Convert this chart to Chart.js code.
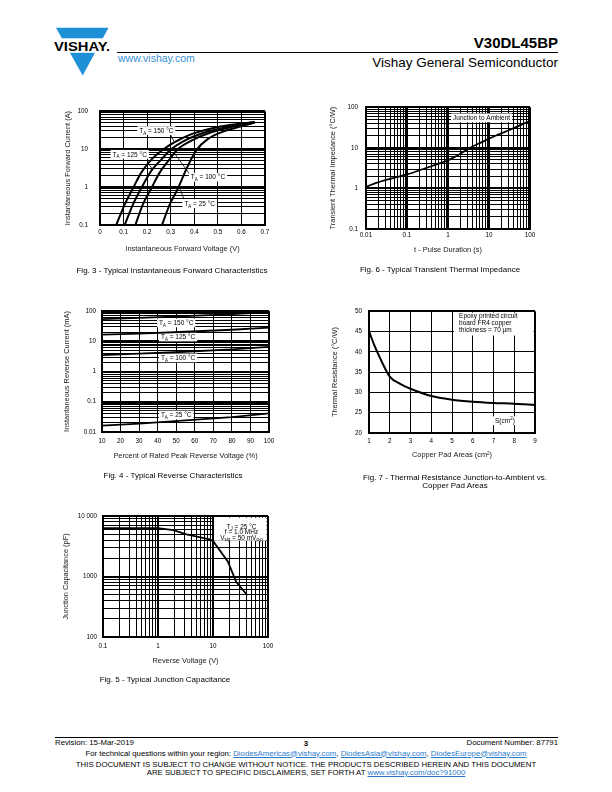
<!DOCTYPE html>
<html>
<head>
<meta charset="utf-8">
<title>V30DL45BP - page 3</title>
<script src="https://cdn.jsdelivr.net/npm/chart.js@4.4.1/dist/chart.umd.min.js"></script>
<style>
  body { margin: 0; width: 612px; height: 792px; position: relative; overflow: hidden; background: #fff;
         font-family: "Liberation Sans", Arial, sans-serif; color: #000; }
  .t { position: absolute; white-space: nowrap; line-height: 1; }
  .mid { transform: translateX(-50%); text-align: center; }
  canvas { position: absolute; }
  a { color: #2b7bcc; text-decoration: underline; }
</style>
</head>
<body>

<svg class="t" style="left:0;top:0" width="120" height="80">
  <polygon points="56,27.7 108.5,27.7 82.7,75.5" fill="#1e90d8"/>
  <rect x="50" y="38.3" width="66" height="14.5" fill="#fff"/>
  <text x="54" y="51.4" font-family="Liberation Sans" font-weight="bold" font-size="12.5" textLength="56" lengthAdjust="spacingAndGlyphs">VISHAY.</text>
</svg>
<div class="t" style="left:118px;top:53px;font-size:10.5px;color:#3a90d4">www.vishay.com</div>
<div class="t" style="right:54px;top:34.5px;font-size:15px;font-weight:bold">V30DL45BP</div>
<div class="t" style="left:117px;top:51.5px;width:441px;height:1px;background:#000"></div>
<div class="t" style="right:54px;top:56px;font-size:13.5px">Vishay General Semiconductor</div>

<canvas id="fig3"></canvas>
<canvas id="fig6"></canvas>
<canvas id="fig4"></canvas>
<canvas id="fig7"></canvas>
<canvas id="fig5"></canvas>

<div class="t mid" style="left:172px;top:267px;font-size:8px">Fig. 3 - Typical Instantaneous Forward Characteristics</div>
<div class="t mid" style="left:440px;top:266px;font-size:8px">Fig. 6 - Typical Transient Thermal Impedance</div>
<div class="t mid" style="left:173px;top:472px;font-size:8px">Fig. 4 - Typical Reverse Characteristics</div>
<div class="t mid" style="left:455px;top:474px;font-size:8px">Fig. 7 - Thermal Resistance Junction-to-Ambient vs.</div>
<div class="t mid" style="left:455px;top:482px;font-size:8px">Copper Pad Areas</div>
<div class="t mid" style="left:165px;top:676px;font-size:8px">Fig. 5 - Typical Junction Capacitance</div>

<div class="t" style="left:55px;top:736.5px;width:503px;height:1px;background:#000"></div>
<div class="t" style="left:55px;top:739px;font-size:7.8px">Revision: 15-Mar-2019</div>
<div class="t mid" style="left:306px;top:739.5px;font-size:7.8px;font-weight:bold">3</div>
<div class="t" style="right:54px;top:739px;font-size:7.8px">Document Number: 87791</div>
<div class="t mid" style="left:306px;top:749.5px;font-size:7.8px">For technical questions within your region: <a>DiodesAmericas@vishay.com</a>, <a>DiodesAsia@vishay.com</a>, <a>DiodesEurope@vishay.com</a></div>
<div class="t mid" style="left:306px;top:760.5px;font-size:7.8px">THIS DOCUMENT IS SUBJECT TO CHANGE WITHOUT NOTICE. THE PRODUCTS DESCRIBED HEREIN AND THIS DOCUMENT</div>
<div class="t mid" style="left:306px;top:768.5px;font-size:7.8px">ARE SUBJECT TO SPECIFIC DISCLAIMERS, SET FORTH AT <a>www.vishay.com/doc?91000</a></div>

<script>
// ---- Fig. 3 - forward characteristics (V, A) ----
const fwdVoltTicks = [0, 0.1, 0.2, 0.3, 0.4, 0.5, 0.6, 0.7];
const fwdVoltLabels = ['0', '0.1', '0.2', '0.3', '0.4', '0.5', '0.6', '0.7'];
const fwdCurrTicks = [0.1, 1, 10, 100];
const fwdCurrLabels = ['0.1', '1', '10', '100'];
const vf150 = [0.069, 0.105, 0.14, 0.175, 0.218, 0.274, 0.317, 0.388, 0.472, 0.557, 0.656];
const if150 = [0.1, 0.35, 0.93, 2.4, 5.3, 10.4, 15.3, 24.8, 35, 44, 51.5];
const vf125 = [0.105, 0.14, 0.175, 0.218, 0.26, 0.303, 0.359, 0.444, 0.557, 0.656];
const if125 = [0.1, 0.35, 0.93, 2.7, 5.3, 10, 16.8, 27.4, 40.3, 51];
const vf100 = [0.15, 0.182, 0.218, 0.253, 0.289, 0.331, 0.388, 0.458, 0.557, 0.656];
const if100 = [0.1, 0.35, 0.93, 2.4, 4.8, 10, 16.8, 25.8, 38, 50.5];
const vf25 = [0.263, 0.296, 0.331, 0.366, 0.409, 0.458, 0.529, 0.6, 0.656];
const if25 = [0.1, 0.35, 0.92, 2.95, 9.4, 18.6, 30, 40, 50];

// ---- Fig. 6 - transient thermal impedance (s, °C/W) ----
const pulseTicks = [0.01, 0.1, 1, 10, 100];
const pulseLabels = ['0.01', '0.1', '1', '10', '100'];
const zthTicks = [0.1, 1, 10, 100];
const zthLabels = ['0.1', '1', '10', '100'];
const pulseTime = [0.01, 0.02, 0.05, 0.1, 0.25, 0.65, 1, 2, 3.2, 6.7, 14, 35, 100];
const zthJA = [1.09, 1.42, 1.84, 2.2, 3.0, 4.2, 4.9, 7.1, 9.6, 13.8, 19.5, 28.6, 46];

// ---- Fig. 4 - reverse characteristics (%, mA) ----
const pctTicks = [10, 20, 30, 40, 50, 60, 70, 80, 90, 100];
const pctLabels = ['10', '20', '30', '40', '50', '60', '70', '80', '90', '100'];
const irTicks = [0.01, 0.1, 1, 10, 100];
const irLabels = ['0.01', '0.1', '1', '10', '100'];
const pctRated = [10, 30, 55, 80, 100];
const ir150 = [54, 59, 68, 79, 92];
const ir125 = [16.5, 18, 20.6, 24, 28];
const ir100 = [3.5, 3.9, 4.5, 5.4, 6.5];
const ir25 = [0.0162, 0.019, 0.0244, 0.031, 0.041];

// ---- Fig. 7 - thermal resistance vs copper pad area (cm², °C/W) ----
const padTicks = [1, 2, 3, 4, 5, 6, 7, 8, 9];
const padLabels = ['1', '2', '3', '4', '5', '6', '7', '8', '9'];
const rthTicks = [20, 25, 30, 35, 40, 45, 50];
const rthLabels = ['20', '25', '30', '35', '40', '45', '50'];
const padArea = [1, 1.25, 1.5, 2, 2.5, 3, 4, 5, 6, 7, 8, 9];
const rthJA = [45.1, 41.7, 38.8, 33.9, 32.1, 30.9, 29.1, 28.2, 27.7, 27.4, 27.2, 26.9];

// ---- Fig. 5 - junction capacitance (V, pF) ----
const vrTicks = [0.1, 1, 10, 100];
const vrLabels = ['0.1', '1', '10', '100'];
const capTicks = [100, 1000, 10000];
const capLabels = ['100', '1000', '10 000'];
const revVolt = [0.1, 1, 1.9, 3.3, 8.7, 10, 18.7, 26.5, 42];
const junctionCap = [6300, 6300, 5850, 4970, 4100, 3850, 1750, 810, 490];

const FONT = 'Liberation Sans';
const TICK_SIZE = 6.3, TITLE_SIZE = 7.4, NOTE_SIZE = 6.5;
const OX = 80, OY = 10, PR = 16, HX = 45;

function logGrid(lo, hi) {
  const out = [];
  for (let d = lo; d < hi * 0.999; d = +(d * 10).toPrecision(3))
    for (let m = 1; m < 10; m++) out.push(+(m * d).toPrecision(3));
  out.push(hi);
  return out;
}

function same(a, b) { return Math.abs(a - b) <= 1e-6 * Math.max(1e-9, Math.abs(b)); }

function axisCfg(pos, a) {
  const horiz = pos === 'bottom';
  return {
    type: a.type, position: pos, min: a.min, max: a.max,
    afterBuildTicks: s => { s.ticks = a.grid.map(v => ({ value: v })); },
    afterFit: s => { if (horiz) s.height = HX; else s.width = OX; },
    ticks: {
      autoSkip: false, maxRotation: 0, minRotation: 0, color: '#000',
      font: { family: FONT, size: TICK_SIZE, lineHeight: 1 },
      padding: a.tickPad,
      callback: v => {
        const i = a.ticks.findIndex(t => same(v, t));
        return i < 0 ? '' : a.labels[i];
      }
    },
    grid: {
      drawTicks: false, color: '#000',
      lineWidth: c => {
        const v = c.tick ? c.tick.value : NaN;
        if (same(v, a.min) || same(v, a.max)) return 2;
        return a.major && a.major.some(m => same(v, m)) ? 2 : 1;
      }
    },
    border: { display: true, color: '#000', width: 2 },
    title: {
      display: true, text: a.title, color: '#1a1a1a',
      font: { family: FONT, size: TITLE_SIZE, lineHeight: 1 },
      padding: horiz ? { top: 0, bottom: a.titlePad } : { top: a.titlePad, bottom: 0 }
    }
  };
}

function drawRuns(ctx, runs, x, y, align, bg) {
  const pieces = runs.map(r => {
    const sub = r[0] === '_', sup = r[0] === '^';
    const text = sub || sup ? r.slice(1) : r;
    const fs = sub || sup ? NOTE_SIZE * 0.68 : NOTE_SIZE;
    ctx.font = fs + 'px "' + FONT + '"';
    return { text, fs, dy: sub ? NOTE_SIZE * 0.28 : sup ? -NOTE_SIZE * 0.38 : 0, w: ctx.measureText(text).width };
  });
  const total = pieces.reduce((s, p) => s + p.w, 0);
  let x0 = align === 'left' ? x : x - total / 2;
  if (bg) {
    ctx.fillStyle = '#fff';
    ctx.fillRect(x0 - 2, y - NOTE_SIZE * 0.65, total + 4, NOTE_SIZE * 1.35);
  }
  ctx.fillStyle = '#000';
  ctx.textAlign = 'left';
  ctx.textBaseline = 'alphabetic';
  const base = y + NOTE_SIZE * 0.36;
  pieces.forEach(p => {
    ctx.font = p.fs + 'px "' + FONT + '"';
    ctx.fillText(p.text, x0, base + p.dy);
    x0 += p.w;
  });
}

function notesPlugin(notes) {
  return {
    id: 'notes',
    beforeDatasetsDraw(chart) {
      const { ctx, chartArea: ca, scales } = chart;
      const X = v => scales.x.getPixelForValue(v), Y = v => scales.y.getPixelForValue(v);
      ctx.save();
      notes.forEach(n => {
        if (n.box) {
          const x1 = Math.max(ca.left + 1.5, Math.min(X(n.box[0]), X(n.box[1])));
          const x2 = Math.min(ca.right - 1.5, Math.max(X(n.box[0]), X(n.box[1])));
          const y1 = Math.max(ca.top + 1.5, Math.min(Y(n.box[2]), Y(n.box[3])));
          const y2 = Math.min(ca.bottom - 1.5, Math.max(Y(n.box[2]), Y(n.box[3])));
          ctx.fillStyle = '#fff';
          ctx.fillRect(x1, y1, x2 - x1, y2 - y1);
        }
        if (n.line) {
          ctx.strokeStyle = '#000';
          ctx.lineWidth = 0.8;
          ctx.beginPath();
          ctx.moveTo(X(n.line[0]), Y(n.line[1]));
          ctx.lineTo(X(n.line[2]), Y(n.line[3]));
          ctx.stroke();
        }
      });
      notes.forEach(n => {
        if (n.runs) drawRuns(ctx, n.runs, X(n.x), Y(n.y), n.align || 'center', n.bg !== false);
      });
      ctx.restore();
    }
  };
}

function drawChart(id, box, xAxis, yAxis, series, notes) {
  const cv = document.getElementById(id);
  cv.width = box.R - box.L + OX + PR;
  cv.height = box.B - box.T + OY + HX;
  cv.style.left = (box.L - OX) + 'px';
  cv.style.top = (box.T - OY) + 'px';
  xAxis.tickPad = box.xTickY - box.B - TICK_SIZE / 2;
  xAxis.titlePad = box.B + HX - box.xTitleY - TITLE_SIZE / 2;
  yAxis.tickPad = box.L - box.yTickRight;
  yAxis.titlePad = box.yTitleX - (box.L - OX) - TITLE_SIZE / 2;
  return new Chart(cv, {
    type: 'line',
    data: {
      datasets: series.map(s => ({
        data: s.x.map((x, i) => ({ x: x, y: s.y[i] })),
        borderColor: '#000', borderWidth: s.w, pointRadius: 0, fill: false,
        cubicInterpolationMode: s.smooth ? 'monotone' : 'default', tension: 0
      }))
    },
    options: {
      responsive: false, animation: false, events: [],
      layout: { padding: { left: 0, top: OY, right: PR, bottom: 0 } },
      plugins: { legend: { display: false }, tooltip: { enabled: false } },
      scales: { x: axisCfg('bottom', xAxis), y: axisCfg('left', yAxis) }
    },
    plugins: [notesPlugin(notes)]
  });
}

const TA = t => ['T', '_A', ' = ' + t + ' °C'];

drawChart('fig3',
  { L: 100, R: 265, T: 106, B: 225, yTickRight: 88, xTickY: 232, yTitleX: 68, xTitleY: 249 },
  { type: 'linear', min: 0, max: 0.7, grid: fwdVoltTicks, ticks: fwdVoltTicks, labels: fwdVoltLabels,
    title: 'Instantaneous Forward Voltage (V)' },
  { type: 'logarithmic', min: 0.1, max: 100, grid: logGrid(0.1, 100), ticks: fwdCurrTicks, labels: fwdCurrLabels,
    major: fwdCurrTicks, title: 'Instantaneous Forward Current (A)' },
  [ { x: vf150, y: if150, w: 2, smooth: true }, { x: vf125, y: if125, w: 2, smooth: true },
    { x: vf100, y: if100, w: 2, smooth: true }, { x: vf25, y: if25, w: 2, smooth: true } ],
  [ { runs: TA(150), x: 0.239, y: 31, line: [0.296, 26, 0.317, 14.5] },
    { runs: TA(125), x: 0.126, y: 7.35, line: [0.2, 4.6, 0.222, 3] },
    { runs: TA(100), x: 0.458, y: 1.83, line: [0.38, 2.2, 0.318, 7.5] },
    { runs: TA(25), x: 0.423, y: 0.37, line: [0.359, 0.43, 0.338, 0.95] } ]);

drawChart('fig6',
  { L: 366, R: 530, T: 106, B: 229, yTickRight: 358, xTickY: 235.5, yTitleX: 333, xTitleY: 250 },
  { type: 'logarithmic', min: 0.01, max: 100, grid: logGrid(0.01, 100), ticks: pulseTicks, labels: pulseLabels,
    major: pulseTicks, title: 't - Pulse Duration (s)' },
  { type: 'logarithmic', min: 0.1, max: 100, grid: logGrid(0.1, 100), ticks: zthTicks, labels: zthLabels,
    major: zthTicks, title: 'Transient Thermal Impedance (°C/W)' },
  [ { x: pulseTime, y: zthJA, w: 1.8, smooth: true } ],
  [ { runs: ['Junction to Ambient'], x: 6.6, y: 55 } ]);

drawChart('fig4',
  { L: 102, R: 269, T: 311, B: 432, yTickRight: 96, xTickY: 441.5, yTitleX: 67, xTitleY: 456 },
  { type: 'linear', min: 10, max: 100, grid: pctTicks, ticks: pctTicks, labels: pctLabels,
    title: 'Percent of Rated Peak Reverse Voltage (%)' },
  { type: 'logarithmic', min: 0.01, max: 100, grid: logGrid(0.01, 100), ticks: irTicks, labels: irLabels,
    major: irTicks, title: 'Instantaneous Reverse Current (mA)' },
  [ { x: pctRated, y: ir150, w: 1.8 }, { x: pctRated, y: ir125, w: 1.8 },
    { x: pctRated, y: ir100, w: 1.8 }, { x: pctRated, y: ir25, w: 1.8 } ],
  [ { runs: TA(150), x: 50, y: 41 }, { runs: TA(125), x: 51, y: 14 },
    { runs: TA(100), x: 51, y: 2.85 }, { runs: TA(25), x: 50, y: 0.037 } ]);

drawChart('fig7',
  { L: 369, R: 535, T: 311, B: 433, yTickRight: 362, xTickY: 441.5, yTitleX: 335, xTitleY: 455 },
  { type: 'linear', min: 1, max: 9, grid: padTicks, ticks: padTicks, labels: padLabels,
    title: 'Copper Pad Areas (cm²)' },
  { type: 'linear', min: 20, max: 50, grid: rthTicks, ticks: rthTicks, labels: rthLabels,
    title: 'Thermal Resistance (°C/W)' },
  [ { x: padArea, y: rthJA, w: 2, smooth: true } ],
  [ { box: [5.1, 9, 50, 44] },
    { runs: ['Epoxy printed circuit'], x: 5.34, y: 48.85, align: 'left', bg: false },
    { runs: ['board FR4 copper'], x: 5.34, y: 47.14, align: 'left', bg: false },
    { runs: ['thickness = 70 µm'], x: 5.34, y: 45.43, align: 'left', bg: false },
    { runs: ['S(cm', '^2', ')'], x: 7.55, y: 23.06 } ]);

drawChart('fig5',
  { L: 103, R: 268, T: 516, B: 637, yTickRight: 97, xTickY: 646.5, yTitleX: 66, xTitleY: 660.5 },
  { type: 'logarithmic', min: 0.1, max: 100, grid: logGrid(0.1, 100), ticks: vrTicks, labels: vrLabels,
    major: vrTicks, title: 'Reverse Voltage (V)' },
  { type: 'logarithmic', min: 100, max: 10000, grid: logGrid(100, 10000), ticks: capTicks, labels: capLabels,
    major: capTicks, title: 'Junction Capacitance (pF)' },
  [ { x: revVolt, y: junctionCap, w: 1.8 } ],
  [ { box: [10.5, 100, 9400, 3900] },
    { runs: ['T', '_J', ' = 25 °C'], x: 33, y: 6760, bg: false },
    { runs: ['f = 1.0 MHz'], x: 33, y: 5540, bg: false },
    { runs: ['V', '_sig', ' = 50 mV', '_p-p'], x: 33, y: 4450, bg: false } ]);
</script>
</body>
</html>
